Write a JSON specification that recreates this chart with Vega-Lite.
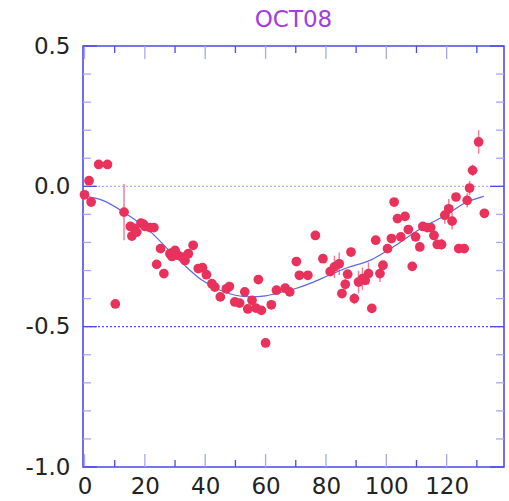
{
  "$schema": "https://vega.github.io/schema/vega-lite/v6.json",
  "autosize": {"type": "none"},
  "padding": {"left": 83, "top": 46, "right": 5, "bottom": 34},
  "width": 421,
  "height": 421,
  "background": "white",
  "title": {
    "text": "OCT08",
    "color": "#a23ee0",
    "font": "DejaVu Sans",
    "fontSize": 23,
    "fontWeight": "normal",
    "anchor": "middle",
    "offset": 3
  },
  "config": {
    "view": {"stroke": "#4b4be8", "strokeWidth": 1.6},
    "axis": {
      "domain": false,
      "grid": false,
      "ticks": false,
      "labelFont": "DejaVu Sans",
      "labelFontSize": 23,
      "labelColor": "#222222",
      "title": null
    }
  },
  "datasets": {
    "obs": [
      {"x": 0.0, "y": -0.030, "err": 0.012},
      {"x": 1.5, "y": 0.020, "err": 0.012},
      {"x": 2.2, "y": -0.056, "err": 0.012},
      {"x": 4.7, "y": 0.078, "err": 0.012},
      {"x": 7.6, "y": 0.078, "err": 0.012},
      {"x": 10.2, "y": -0.419, "err": 0.012},
      {"x": 13.1, "y": -0.092, "err": 0.100},
      {"x": 15.2, "y": -0.143, "err": 0.012},
      {"x": 15.7, "y": -0.177, "err": 0.012},
      {"x": 16.5, "y": -0.150, "err": 0.012},
      {"x": 17.3, "y": -0.163, "err": 0.012},
      {"x": 18.7, "y": -0.131, "err": 0.012},
      {"x": 19.5, "y": -0.135, "err": 0.012},
      {"x": 20.1, "y": -0.143, "err": 0.012},
      {"x": 21.7, "y": -0.147, "err": 0.012},
      {"x": 23.0, "y": -0.147, "err": 0.012},
      {"x": 23.9, "y": -0.278, "err": 0.012},
      {"x": 25.2, "y": -0.222, "err": 0.012},
      {"x": 26.3, "y": -0.311, "err": 0.012},
      {"x": 28.3, "y": -0.240, "err": 0.020},
      {"x": 29.0, "y": -0.250, "err": 0.012},
      {"x": 30.0, "y": -0.228, "err": 0.012},
      {"x": 31.0, "y": -0.246, "err": 0.012},
      {"x": 32.6, "y": -0.252, "err": 0.012},
      {"x": 33.3, "y": -0.264, "err": 0.012},
      {"x": 34.4, "y": -0.240, "err": 0.012},
      {"x": 36.0, "y": -0.210, "err": 0.012},
      {"x": 37.7, "y": -0.293, "err": 0.012},
      {"x": 39.1, "y": -0.290, "err": 0.012},
      {"x": 40.4, "y": -0.315, "err": 0.012},
      {"x": 42.2, "y": -0.347, "err": 0.012},
      {"x": 43.2, "y": -0.359, "err": 0.012},
      {"x": 45.0, "y": -0.394, "err": 0.012},
      {"x": 47.0, "y": -0.365, "err": 0.012},
      {"x": 48.0, "y": -0.357, "err": 0.012},
      {"x": 49.8, "y": -0.412, "err": 0.012},
      {"x": 51.4, "y": -0.416, "err": 0.012},
      {"x": 53.1, "y": -0.376, "err": 0.012},
      {"x": 54.1, "y": -0.437, "err": 0.012},
      {"x": 55.5, "y": -0.406, "err": 0.012},
      {"x": 56.8, "y": -0.434, "err": 0.012},
      {"x": 57.6, "y": -0.332, "err": 0.012},
      {"x": 58.6, "y": -0.442, "err": 0.012},
      {"x": 60.0, "y": -0.558, "err": 0.012},
      {"x": 61.9, "y": -0.422, "err": 0.012},
      {"x": 63.6, "y": -0.370, "err": 0.012},
      {"x": 66.5, "y": -0.363, "err": 0.012},
      {"x": 68.0, "y": -0.376, "err": 0.012},
      {"x": 70.2, "y": -0.268, "err": 0.012},
      {"x": 71.2, "y": -0.317, "err": 0.012},
      {"x": 74.0, "y": -0.317, "err": 0.012},
      {"x": 76.5, "y": -0.175, "err": 0.012},
      {"x": 79.0, "y": -0.258, "err": 0.012},
      {"x": 81.4, "y": -0.304, "err": 0.012},
      {"x": 82.8, "y": -0.287, "err": 0.040},
      {"x": 84.4, "y": -0.276, "err": 0.040},
      {"x": 85.3, "y": -0.382, "err": 0.012},
      {"x": 86.4, "y": -0.349, "err": 0.020},
      {"x": 87.2, "y": -0.313, "err": 0.012},
      {"x": 88.3, "y": -0.234, "err": 0.012},
      {"x": 89.4, "y": -0.400, "err": 0.020},
      {"x": 90.8, "y": -0.341, "err": 0.040},
      {"x": 92.1, "y": -0.329, "err": 0.040},
      {"x": 93.0, "y": -0.335, "err": 0.012},
      {"x": 94.1, "y": -0.311, "err": 0.040},
      {"x": 95.2, "y": -0.435, "err": 0.012},
      {"x": 96.5, "y": -0.192, "err": 0.012},
      {"x": 97.9, "y": -0.311, "err": 0.030},
      {"x": 98.9, "y": -0.281, "err": 0.012},
      {"x": 100.4, "y": -0.222, "err": 0.012},
      {"x": 101.7, "y": -0.186, "err": 0.012},
      {"x": 102.6, "y": -0.056, "err": 0.012},
      {"x": 103.7, "y": -0.115, "err": 0.012},
      {"x": 104.8, "y": -0.180, "err": 0.012},
      {"x": 106.2, "y": -0.107, "err": 0.012},
      {"x": 107.3, "y": -0.154, "err": 0.012},
      {"x": 108.6, "y": -0.285, "err": 0.012},
      {"x": 109.7, "y": -0.180, "err": 0.012},
      {"x": 111.1, "y": -0.216, "err": 0.012},
      {"x": 112.1, "y": -0.143, "err": 0.012},
      {"x": 113.6, "y": -0.147, "err": 0.012},
      {"x": 114.7, "y": -0.147, "err": 0.012},
      {"x": 115.8, "y": -0.175, "err": 0.012},
      {"x": 116.9, "y": -0.207, "err": 0.012},
      {"x": 118.3, "y": -0.207, "err": 0.020},
      {"x": 119.4, "y": -0.103, "err": 0.030},
      {"x": 120.7, "y": -0.080, "err": 0.035},
      {"x": 121.8, "y": -0.124, "err": 0.030},
      {"x": 123.1, "y": -0.038, "err": 0.012},
      {"x": 124.0, "y": -0.222, "err": 0.012},
      {"x": 125.8, "y": -0.222, "err": 0.012},
      {"x": 126.8, "y": -0.050, "err": 0.025},
      {"x": 127.6, "y": -0.006, "err": 0.025},
      {"x": 128.6, "y": 0.057, "err": 0.020},
      {"x": 130.6, "y": 0.158, "err": 0.042},
      {"x": 132.5, "y": -0.096, "err": 0.012}
    ],
    "model": [
      {"x": 0, "y": -0.035},
      {"x": 6, "y": -0.050},
      {"x": 13, "y": -0.092},
      {"x": 22, "y": -0.163},
      {"x": 28, "y": -0.228},
      {"x": 33, "y": -0.280},
      {"x": 39, "y": -0.335},
      {"x": 45, "y": -0.370},
      {"x": 50, "y": -0.388},
      {"x": 55, "y": -0.394},
      {"x": 60, "y": -0.390},
      {"x": 65, "y": -0.378},
      {"x": 70, "y": -0.364},
      {"x": 75, "y": -0.345},
      {"x": 81, "y": -0.317},
      {"x": 87, "y": -0.290},
      {"x": 95, "y": -0.262},
      {"x": 102, "y": -0.218},
      {"x": 110, "y": -0.160},
      {"x": 120, "y": -0.100},
      {"x": 126, "y": -0.060},
      {"x": 132.3, "y": -0.036}
    ],
    "refs": [
      {"level": 0.0, "kind": "zero"},
      {"level": -0.5, "kind": "half"}
    ],
    "xticks": [
      {"v": 0}, {"v": 10}, {"v": 20}, {"v": 30}, {"v": 40}, {"v": 50}, {"v": 60},
      {"v": 70}, {"v": 80}, {"v": 90}, {"v": 100}, {"v": 110}, {"v": 120}, {"v": 130}
    ],
    "yticks": [
      {"v": -1.0}, {"v": -0.9}, {"v": -0.8}, {"v": -0.7}, {"v": -0.6}, {"v": -0.5},
      {"v": -0.4}, {"v": -0.3}, {"v": -0.2}, {"v": -0.1}, {"v": 0.0},
      {"v": 0.1}, {"v": 0.2}, {"v": 0.3}, {"v": 0.4}, {"v": 0.5}
    ]
  },
  "layer": [
    {
      "data": {"name": "refs"},
      "mark": {"type": "rule", "strokeWidth": 1.3, "strokeDash": [2, 2]},
      "encoding": {
        "y": {"field": "level", "type": "quantitative", "scale": {"domain": [-1, 0.5], "nice": false, "zero": false}, "axis": null},
        "color": {
          "field": "kind",
          "type": "nominal",
          "scale": {"domain": ["zero", "half"], "range": ["#a9b0f2", "#4654e0"]},
          "legend": null
        }
      }
    },
    {
      "data": {"name": "xticks"},
      "transform": [{"filter": "datum.v % 20 === 0"}],
      "mark": {"type": "rule", "color": "#a5a8f0", "strokeWidth": 1.3},
      "encoding": {
        "x": {"field": "v", "type": "quantitative", "scale": {"domain": [-0.5, 139], "nice": false, "zero": false}, "axis": null},
        "y": {"datum": -1, "axis": null},
        "y2": {"datum": -0.954}
      }
    },
    {
      "data": {"name": "xticks"},
      "transform": [{"filter": "datum.v % 20 === 0"}],
      "mark": {"type": "rule", "color": "#a5a8f0", "strokeWidth": 1.3},
      "encoding": {
        "x": {"field": "v", "type": "quantitative", "axis": null},
        "y": {"datum": 0.5, "axis": null},
        "y2": {"datum": 0.454}
      }
    },
    {
      "data": {"name": "xticks"},
      "transform": [{"filter": "datum.v % 20 !== 0"}],
      "mark": {"type": "rule", "color": "#4b4be8", "strokeWidth": 1.3},
      "encoding": {
        "x": {"field": "v", "type": "quantitative", "axis": null},
        "y": {"datum": -1, "axis": null},
        "y2": {"datum": -0.975}
      }
    },
    {
      "data": {"name": "xticks"},
      "transform": [{"filter": "datum.v % 20 !== 0"}],
      "mark": {"type": "rule", "color": "#4b4be8", "strokeWidth": 1.3},
      "encoding": {
        "x": {"field": "v", "type": "quantitative", "axis": null},
        "y": {"datum": 0.5, "axis": null},
        "y2": {"datum": 0.475}
      }
    },
    {
      "data": {"name": "yticks"},
      "transform": [{"filter": "abs(datum.v * 2 - round(datum.v * 2)) < 1e-6"}],
      "mark": {"type": "rule", "color": "#4b4be8", "strokeWidth": 1.3},
      "encoding": {
        "y": {"field": "v", "type": "quantitative", "axis": null},
        "x": {"datum": -0.5, "axis": null},
        "x2": {"datum": 4.1}
      }
    },
    {
      "data": {"name": "yticks"},
      "transform": [{"filter": "abs(datum.v * 2 - round(datum.v * 2)) < 1e-6"}],
      "mark": {"type": "rule", "color": "#4b4be8", "strokeWidth": 1.3},
      "encoding": {
        "y": {"field": "v", "type": "quantitative", "axis": null},
        "x": {"datum": 139, "axis": null},
        "x2": {"datum": 134.4}
      }
    },
    {
      "data": {"name": "yticks"},
      "transform": [{"filter": "abs(datum.v * 2 - round(datum.v * 2)) >= 1e-6"}],
      "mark": {"type": "rule", "color": "#a5a8f0", "strokeWidth": 1.3},
      "encoding": {
        "y": {"field": "v", "type": "quantitative", "axis": null},
        "x": {"datum": -0.5, "axis": null},
        "x2": {"datum": 2.14}
      }
    },
    {
      "data": {"name": "yticks"},
      "transform": [{"filter": "abs(datum.v * 2 - round(datum.v * 2)) >= 1e-6"}],
      "mark": {"type": "rule", "color": "#a5a8f0", "strokeWidth": 1.3},
      "encoding": {
        "y": {"field": "v", "type": "quantitative", "axis": null},
        "x": {"datum": 139, "axis": null},
        "x2": {"datum": 136.36}
      }
    },
    {
      "data": {"name": "obs"},
      "mark": {"type": "errorbar", "color": "#f2809c", "thickness": 1.5},
      "encoding": {
        "x": {"field": "x", "type": "quantitative", "axis": null},
        "y": {"field": "y", "type": "quantitative", "axis": null},
        "yError": {"field": "err"}
      }
    },
    {
      "data": {"name": "model"},
      "mark": {"type": "line", "color": "#5b68e6", "strokeWidth": 1.2, "interpolate": "monotone"},
      "encoding": {
        "x": {"field": "x", "type": "quantitative", "axis": null},
        "y": {"field": "y", "type": "quantitative", "axis": null}
      }
    },
    {
      "data": {"name": "obs"},
      "mark": {"type": "circle", "size": 95, "color": "#e8325c", "opacity": 1},
      "encoding": {
        "x": {
          "field": "x",
          "type": "quantitative",
          "axis": {
            "orient": "bottom",
            "values": [0, 20, 40, 60, 80, 100, 120],
            "labelPadding": 8,
            "labelFlush": false,
            "labelOverlap": false
          }
        },
        "y": {
          "field": "y",
          "type": "quantitative",
          "axis": {
            "orient": "left",
            "values": [-1, -0.5, 0, 0.5],
            "labelExpr": "abs(datum.value - 0.5) < 1e-6 ? '0.5' : abs(datum.value) < 1e-6 ? '0.0' : abs(datum.value + 0.5) < 1e-6 ? '-0.5' : '-1.0'",
            "labelPadding": 13,
            "labelFlush": false,
            "labelOverlap": false
          }
        }
      }
    }
  ],
  "resolve": {"axis": {"x": "independent", "y": "independent"}}
}
